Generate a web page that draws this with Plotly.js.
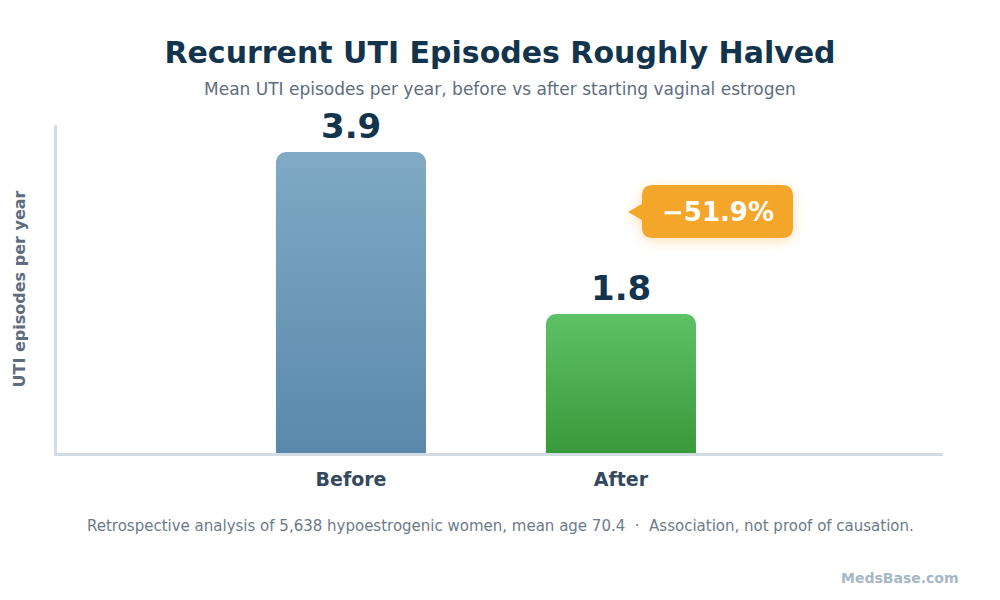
<!DOCTYPE html>
<html>
<head>
<meta charset="utf-8">
<script src="https://cdn.plot.ly/plotly-3.0.1.min.js"></script>
<style>
  html, body { margin: 0; padding: 0; background: #ffffff; }
  #chart { width: 1000px; height: 600px; }
</style>
</head>
<body>
<div id="chart"></div>
<script>
// Mean UTI episodes per year
const periods = ["Before", "After"];
const episodes = [3.9, 1.8];
const valueLabels = ["3.9", "1.8"];
const changeLabel = "\u221251.9%";

const FONT = "DejaVu Sans, Verdana, sans-serif";
const NAVY = "#12344d";

// plot box in pixels, used to place the callout bubble in paper units
const M = { l: 57, r: 57, t: 125, b: 147 };
const W = 1000, H = 600;
const PW = W - M.l - M.r, PH = H - M.t - M.b;
const px = x => (x - M.l) / PW;
const py = y => (H - M.b - y) / PH;

// rounded callout with a small pointer on its left side
function calloutPath(x0, y0, x1, y1, r, tipX, tipY, half) {
  const P = (x, y) => px(x).toFixed(5) + "," + py(y).toFixed(5);
  return "M" + P(x0 + r, y0) +
    " L" + P(x1 - r, y0) + " Q" + P(x1, y0) + " " + P(x1, y0 + r) +
    " L" + P(x1, y1 - r) + " Q" + P(x1, y1) + " " + P(x1 - r, y1) +
    " L" + P(x0 + r, y1) + " Q" + P(x0, y1) + " " + P(x0, y1 - r) +
    " L" + P(x0, tipY + half) + " L" + P(tipX, tipY) + " L" + P(x0, tipY - half) +
    " L" + P(x0, y0 + r) + " Q" + P(x0, y0) + " " + P(x0 + r, y0) + " Z";
}

const trace = {
  type: "bar",
  x: [0, 1],
  y: episodes,
  width: 0.556,
  marker: { color: ["#6d9aba", "#4bae4f"], line: { width: 0 } },
  hoverinfo: "skip"
};

const annotations = episodes.map((v, i) => ({
  x: i, y: v, xref: "x", yref: "y",
  text: valueLabels[i], showarrow: false,
  yanchor: "bottom", yshift: 4,
  font: { family: FONT, size: 34, color: NAVY, weight: "bold" }
}));

annotations.push(
  {
    xref: "paper", yref: "paper", x: px(718), y: py(212),
    text: changeLabel, showarrow: false,
    xanchor: "center", yanchor: "middle",
    font: { family: FONT, size: 26, color: "#ffffff", weight: "bold" }
  },
  {
    xref: "paper", yref: "paper", x: 0.5, y: py(89),
    text: "Mean UTI episodes per year, before vs after starting vaginal estrogen",
    showarrow: false, xanchor: "center", yanchor: "middle",
    font: { family: FONT, size: 17, color: "#5d6d7e" }
  },
  {
    xref: "paper", yref: "paper", x: 0.5, y: py(526),
    text: "Retrospective analysis of 5,638 hypoestrogenic women, mean age 70.4  \u00b7  Association, not proof of causation.",
    showarrow: false, xanchor: "center", yanchor: "middle",
    font: { family: FONT, size: 15, color: "#6c7b8a" }
  },
  {
    xref: "paper", yref: "paper", x: px(961), y: py(578),
    text: "MedsBase.com", showarrow: false,
    xanchor: "right", yanchor: "middle",
    font: { family: FONT, size: 14, color: "#a7b7c4", weight: "bold" }
  }
);

const layout = {
  width: W, height: H,
  margin: M,
  paper_bgcolor: "#ffffff",
  plot_bgcolor: "#ffffff",
  showlegend: false,
  barcornerradius: 10,
  title: {
    text: "Recurrent UTI Episodes Roughly Halved",
    x: 0.5, xanchor: "center",
    y: 1 - 52 / H, yanchor: "middle",
    font: { family: FONT, size: 30, color: NAVY, weight: "bold" }
  },
  xaxis: {
    range: [-1.089, 2.193],
    tickmode: "array", tickvals: [0, 1], ticktext: periods,
    tickfont: { family: FONT, size: 19, color: "#34495e", weight: "bold" },
    ticks: "outside", ticklen: 7, tickcolor: "rgba(0,0,0,0)",
    showgrid: false, zeroline: false,
    showline: true, linecolor: "#d3dce2", linewidth: 3,
    fixedrange: true
  },
  yaxis: {
    range: [0, 4.25],
    showticklabels: false, ticks: "",
    showgrid: false, zeroline: false,
    showline: true, linecolor: "#d3dce2", linewidth: 3,
    title: {
      text: "UTI episodes per year", standoff: 25,
      font: { family: FONT, size: 16, color: "#5d6d7e", weight: "bold" }
    },
    fixedrange: true
  },
  shapes: [{
    type: "path", xref: "paper", yref: "paper", layer: "above",
    path: calloutPath(642, 185, 793, 238, 11, 628, 212, 8),
    fillcolor: "#f4a62a", line: { width: 0 }
  }],
  annotations: annotations
};

Plotly.newPlot("chart", [trace], layout, { displayModeBar: false, staticPlot: true }).then(gd => {
  // vertical gradient fill for each bar
  const svg = gd.querySelector(".main-svg");
  const ns = "http://www.w3.org/2000/svg";
  let defs = svg.querySelector("defs");
  if (!defs) { defs = document.createElementNS(ns, "defs"); svg.insertBefore(defs, svg.firstChild); }
  const grads = [["barGradBefore", "#80aac5", "#5a89ab"], ["barGradAfter", "#5ec165", "#399a3b"]];
  grads.forEach(([id, top, bottom]) => {
    const g = document.createElementNS(ns, "linearGradient");
    g.setAttribute("id", id);
    g.setAttribute("x1", "0"); g.setAttribute("y1", "0");
    g.setAttribute("x2", "0"); g.setAttribute("y2", "1");
    [["0", top], ["1", bottom]].forEach(([o, c]) => {
      const s = document.createElementNS(ns, "stop");
      s.setAttribute("offset", o); s.setAttribute("stop-color", c);
      g.appendChild(s);
    });
    defs.appendChild(g);
  });
  gd.querySelectorAll(".barlayer .point path").forEach((p, i) => {
    p.style.fill = "url(#" + grads[i][0] + ")";
  });
  // soft glow round the change callout
  gd.querySelectorAll(".shapelayer path").forEach(p => {
    p.style.filter = "drop-shadow(0px 3px 6px rgba(244,166,42,0.35))";
  });
});
</script>
</body>
</html>
